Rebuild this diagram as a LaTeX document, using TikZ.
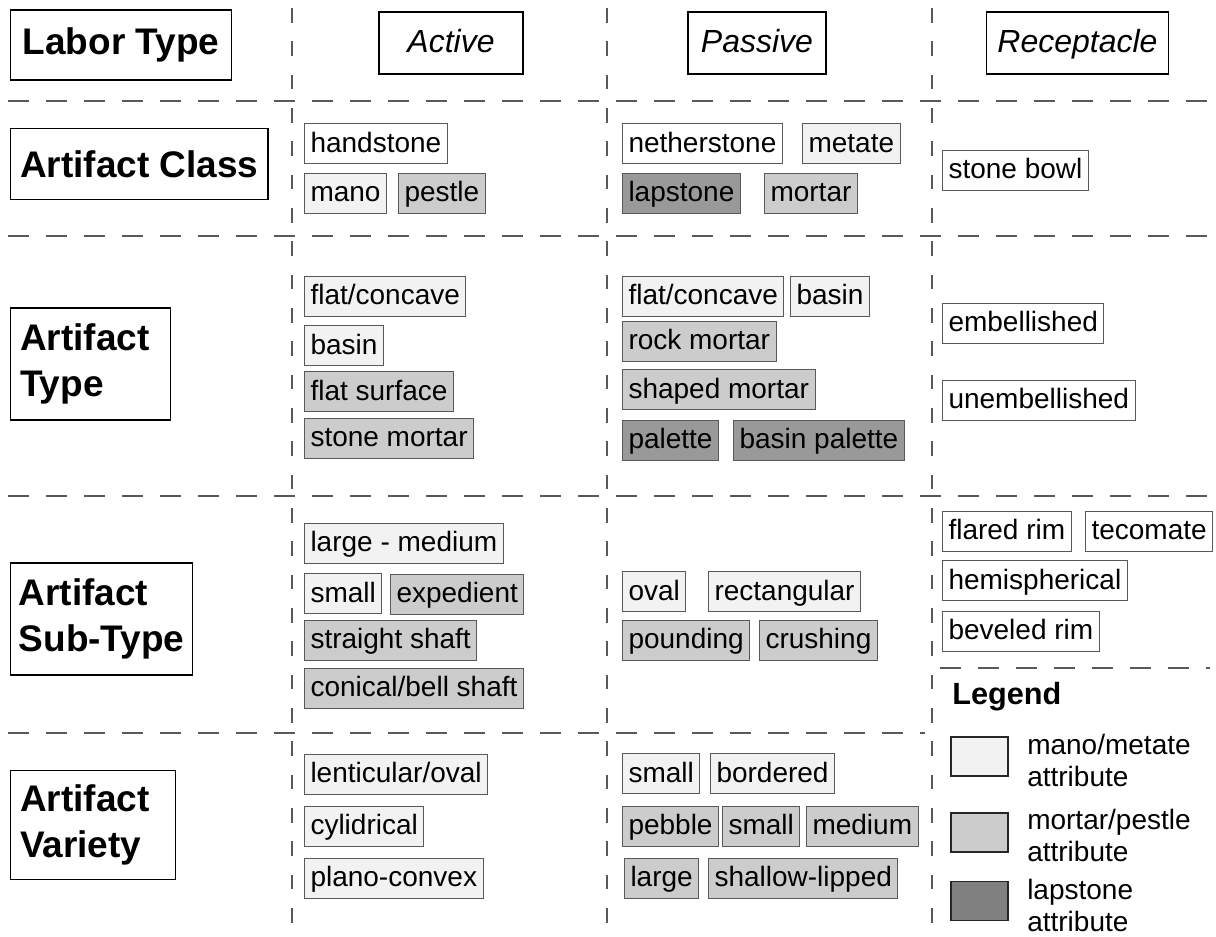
\documentclass[tikz,border=0pt]{standalone}
\usepackage{fontspec}
\setmainfont{Liberation Sans}
\usepackage{tikz}

\definecolor{manoatt}{HTML}{F2F2F2}
\definecolor{mortatt}{HTML}{CCCCCC}
\definecolor{lapatt}{HTML}{999999}
\definecolor{lapkey}{HTML}{808080}
\definecolor{rulegray}{HTML}{595959}

\begin{document}
\begin{tikzpicture}[x=0.75pt,y=-0.75pt,
	hrule/.style={draw=rulegray,line width=0.9pt,dash pattern=on 15.75pt off 12.75pt},
	vrule/.style={draw=rulegray,line width=0.9pt,dash pattern=on 11pt off 14pt},
	rowhead/.style={draw=black,line width=1.1pt,anchor=west,align=left,inner xsep=7pt,
		font=\fontsize{27.75}{34.5}\selectfont\bfseries},
	colhead/.style={draw=black,line width=0.9pt,minimum height=46.5pt,text height=18pt,text depth=4pt,
		font=\fontsize{24}{28}\selectfont\itshape},
	item/.style={draw=rulegray,line width=0.75pt,anchor=west,inner xsep=4.5pt,inner ysep=0pt,
		minimum height=30pt,text height=16pt,text depth=3pt,
		font=\fontsize{21}{24}\selectfont},
	mano/.style={item,fill=manoatt},
	mort/.style={item,fill=mortatt},
	lap/.style={item,fill=lapatt},
	key/.style={draw=black!85,line width=0.9pt,minimum width=42.75pt,minimum height=29.25pt,inner sep=0pt},
	keytext/.style={anchor=west,align=left,inner sep=0pt,font=\fontsize{21}{24}\selectfont}]
	\useasboundingbox (0,0) rectangle (1216,936);

	% grid
	\draw[vrule] (292,8) -- (292,930);
	\draw[vrule] (607,8) -- (607,930);
	\draw[vrule] (932,8) -- (932,930);
	\draw[hrule] (8,101) -- (1210,101);
	\draw[hrule] (8,236) -- (1210,236);
	\draw[hrule] (8,496) -- (1210,496);
	\draw[hrule] (8,733) -- (925,733);
	\draw[hrule] (940,668) -- (1210,668);

	% row and column heads
	\node[rowhead,minimum height=52.5pt,inner xsep=9pt] (labor) at (10,45) {Labor Type};
	\node[rowhead,minimum height=53pt] (class) at (10,164) {Artifact Class};
	\node[rowhead,minimum height=84pt,text width=106pt] (type) at (10,364) {Artifact\\Type};
	\node[rowhead,minimum height=84pt,inner xsep=6pt] (subtype) at (10,619) {Artifact\\Sub-Type};
	\node[rowhead,minimum height=82pt,text width=109.5pt] (variety) at (10,825) {Artifact\\Variety};

	\node[colhead,minimum width=108pt] (active) at (451,43) {Active};
	\node[colhead,minimum width=103.5pt] (passive) at (757,43) {Passive};
	\node[colhead,minimum width=137pt] (recept) at (1077.5,43) {Receptacle};

	% active
	\node[item] (handstone) at (304,143.5) {handstone};
	\node[mano] (mano) at (304,193) {mano};
	\node[mort] (pestle) at (398,193) {pestle};
	\node[mano] (aflat) at (304,296) {flat/concave};
	\node[mano] (abasin) at (304,345.5) {basin};
	\node[mort] (flatsurf) at (304,391.5) {flat surface};
	\node[mort] (stonemort) at (304,438) {stone mortar};
	\node[mano] (largemed) at (304,543) {large - medium};
	\node[mano] (asmall) at (304,593.5) {small};
	\node[mort] (expedient) at (390,594) {expedient};
	\node[mort] (straight) at (304,640) {straight shaft};
	\node[mort] (conical) at (304,688) {conical/bell shaft};
	\node[mano] (lenticular) at (304,774) {lenticular/oval};
	\node[mano] (cylidrical) at (304,826) {cylidrical};
	\node[mano] (plano) at (304,878) {plano-convex};

	% passive
	\node[item] (nether) at (622,143.5) {netherstone};
	\node[mano] (metate) at (802,143.5) {metate};
	\node[lap] (lapstone) at (622,193) {lapstone};
	\node[mort] (mortar) at (764,193) {mortar};
	\node[mano] (pflat) at (622,296) {flat/concave};
	\node[mano] (pbasin) at (790,296) {basin};
	\node[mort] (rockmort) at (622,341) {rock mortar};
	\node[mort] (shapedmort) at (622,389.5) {shaped mortar};
	\node[lap] (palette) at (622,440) {palette};
	\node[lap] (basinpal) at (733,440) {basin palette};
	\node[mano] (oval) at (622,591.5) {oval};
	\node[mano] (rect) at (708,591.5) {rectangular};
	\node[mort] (pounding) at (622,640) {pounding};
	\node[mort] (crushing) at (759,640) {crushing};
	\node[mano] (psmall) at (622,773.5) {small};
	\node[mano] (bordered) at (710,773.5) {bordered};
	\node[mort] (pebble) at (622,826) {pebble};
	\node[mort] (msmall) at (722,826) {small};
	\node[mort] (medium) at (806,826) {medium};
	\node[mort] (large) at (624,878) {large};
	\node[mort] (shallow) at (708,878) {shallow-lipped};

	% receptacle
	\node[item] (bowl) at (942,170) {stone bowl};
	\node[item] (embel) at (942,323) {embellished};
	\node[item] (unembel) at (942,400) {unembellished};
	\node[item] (flared) at (942,531) {flared rim};
	\node[item] (tecomate) at (1085,531) {tecomate};
	\node[item] (hemi) at (942,580.5) {hemispherical};
	\node[item] (beveled) at (942,631) {beveled rim};

	% legend
	\node[anchor=west,inner sep=0pt,font=\fontsize{23}{27}\selectfont\bfseries] (legend) at (952,697) {Legend};
	\node[key,fill=manoatt] (keymano) at (979.5,756.5) {};
	\node[key,fill=mortatt] (keymort) at (979.5,832.5) {};
	\node[key,fill=lapkey] (keylap) at (979.5,901) {};
	\node[keytext] (txtmano) at (1027,760) {mano/metate\\attribute};
	\node[keytext] (txtmort) at (1027,835) {mortar/pestle\\attribute};
	\node[keytext] (txtlap) at (1027,905) {lapstone\\attribute};
\end{tikzpicture}
\end{document}
